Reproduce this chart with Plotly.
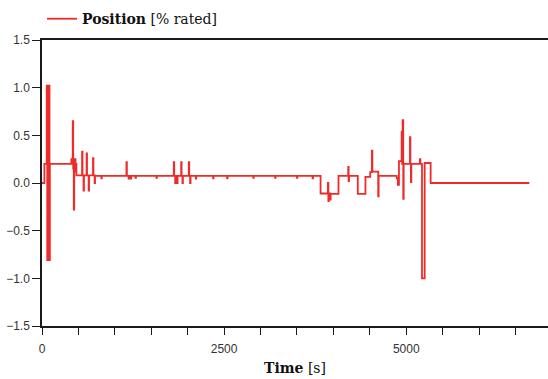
import plotly.graph_objects as go

# Time [s] at which each value starts (step data, held until next time)
time_s = [0, 33, 65, 72, 80, 88, 96, 103, 108,
          403, 415, 422, 428, 436, 442, 452, 460, 466, 472,
          550, 556, 570, 576, 612, 618, 640, 646, 700, 706, 722, 728,
          815, 821, 1159, 1165, 1188, 1194, 1218, 1224, 1283, 1289, 1571, 1577,
          1809, 1815, 1828, 1834, 1855, 1861, 1910, 1916, 1928, 1934,
          2015, 2021, 2033, 2039, 2111, 2117, 2349, 2355, 2541, 2547,
          2900, 2906, 3200, 3206, 3500, 3506, 3714, 3720,
          3824, 3925, 3931, 3937, 3956, 3962,
          4070, 4203, 4209, 4215, 4335, 4440, 4505, 4529, 4535, 4615, 4621,
          4870, 4885, 4900, 4937, 4943, 4950, 4959, 4965, 5051, 5057, 5064, 5070,
          5188, 5194, 5216, 5253, 5335, 6690]
position = [0.0, 0.2, 1.02, -0.81, 1.02, -0.81, 1.02, -0.81, 0.2,
            0.25, 0.2, 0.65, 0.15, -0.28, 0.22, 0.25, 0.12, 0.2, 0.08,
            0.33, 0.08, -0.08, 0.08, 0.31, 0.08, -0.08, 0.08, 0.26, 0.08, 0.0, 0.075,
            0.05, 0.075, 0.22, 0.075, 0.045, 0.075, 0.045, 0.075, 0.055, 0.075, 0.055, 0.075,
            0.22, 0.075, 0.0, 0.075, 0.0, 0.075, 0.22, 0.075, 0.0, 0.075,
            0.22, 0.075, 0.0, 0.075, 0.045, 0.075, 0.05, 0.075, 0.05, 0.075,
            0.055, 0.075, 0.055, 0.075, 0.055, 0.075, 0.05, 0.075,
            -0.11, 0.0, -0.19, -0.11, -0.175, -0.115,
            0.075, 0.17, 0.02, 0.075, -0.115, 0.065, 0.115, 0.34, 0.12, -0.14, 0.075,
            0.05, -0.02, 0.23, 0.535, 0.2, 0.66, -0.165, 0.2, 0.48, 0.2, 0.01, 0.2,
            0.25, 0.2, -1.0, 0.21, 0.0, 0.0]

x_ticks = [0, 2500, 5000]
y_ticks = [-1.5, -1.0, -0.5, 0.0, 0.5, 1.0, 1.5]

fig = go.Figure()
fig.add_trace(go.Scatter(
    x=time_s, y=position, mode="lines", line_shape="hv",
    line=dict(color="#ee2b2b", width=1.8),
    name="<b>Position</b> [% rated]", showlegend=True,
))

axis_font = dict(family="Liberation Sans, Arial, sans-serif", size=12, color="#333333")
fig.update_layout(
    width=548, height=379,
    margin=dict(l=42, r=0, t=40, b=53),
    paper_bgcolor="white", plot_bgcolor="white",
    showlegend=True,
    legend=dict(x=0.0, y=1.073, xanchor="left", yanchor="middle",
                font=dict(family="DejaVu Serif, serif", size=14, color="#111111"),
                bgcolor="rgba(0,0,0,0)"),
    xaxis=dict(range=[0, 6946], tickvals=x_ticks, ticktext=[str(v) for v in x_ticks],
               ticks="outside", ticklen=7, tickwidth=1.3, tickcolor="#1a1a1a",
               minor=dict(dtick=500, tick0=0, ticks="outside", ticklen=7, tickwidth=1.3, tickcolor="#1a1a1a"),
               showline=True, linecolor="#1a1a1a", linewidth=1.5, mirror=True,
               showgrid=False, zeroline=False, tickfont=axis_font,
               ticklabelstandoff=4, automargin=False,
               title=dict(text="<b>Time</b> [s]", standoff=8,
                          font=dict(family="DejaVu Serif, serif", size=14, color="#111111"))),
    yaxis=dict(range=[-1.5, 1.5], tickvals=y_ticks, tickformat=".1f",
               ticks="outside", ticklen=8, tickwidth=1.3, tickcolor="#1a1a1a",
               showline=True, linecolor="#1a1a1a", linewidth=1.5, automargin=False,
               showgrid=False, zeroline=False, tickfont=axis_font),
)

fig.write_html("out.html", config={"displayModeBar": False},
               post_script="document.body.style.margin='0';")
